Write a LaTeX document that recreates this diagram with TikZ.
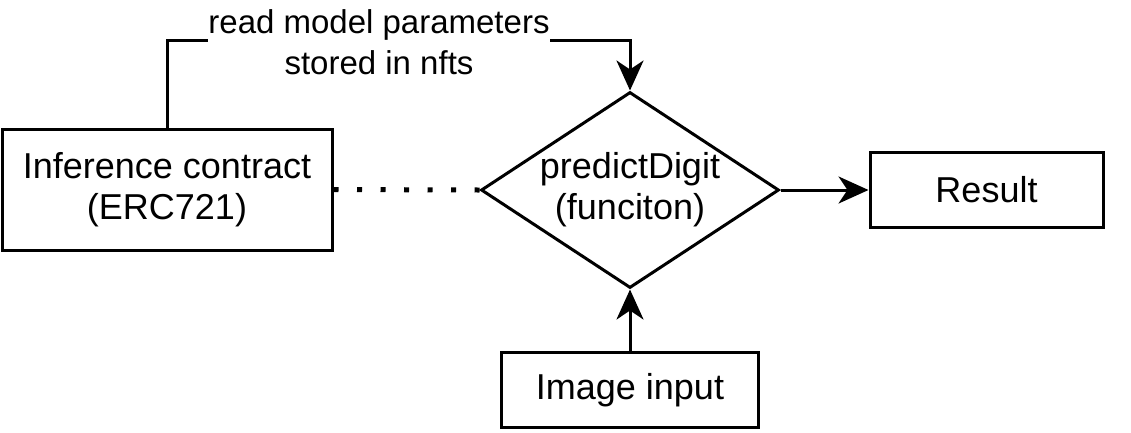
\documentclass[tikz,border=0pt]{standalone}
\usepackage{fontspec}
\setmainfont{Liberation Sans}
\usetikzlibrary{arrows.meta, shapes.geometric}

\begin{document}
\begin{tikzpicture}[x=1pt, y=-1pt, >={Stealth[length=30pt, width=27pt, inset=9pt]},
    box/.style={draw, line width=3pt, inner sep=0pt, align=center,
        font=\fontsize{36}{41}\selectfont},
    flow/.style={->, line width=3pt},
    dotline/.style={line width=5pt, dash pattern=on 5pt off 18.5pt},
    edgelabel/.style={fill=white, inner xsep=0pt, inner ysep=1pt, align=center,
        font=\fontsize{33}{41}\selectfont}]

    % ==========================================
    % Canvas
    % ==========================================
    \useasboundingbox (0,0) rectangle (1131,432);

    % ==========================================
    % Boxes
    % ==========================================
    \node[box, minimum width=330, minimum height=121] (contract) at (167,189.5)
        {Inference contract\\(ERC721)};

    \node[draw, line width=3pt, shape=diamond, inner sep=0pt,
        minimum width=298, minimum height=196] (func) at (630,190) {};
    \node[align=center, font=\fontsize{36}{41}\selectfont] (functext) at (func.center)
        {predictDigit\\(funciton)};

    \node[box, minimum width=233, minimum height=75] (result) at (986.5,190) {Result};
    \node[box, minimum width=257, minimum height=75] (input) at (630,390) {Image input};

    % ==========================================
    % Connectors
    % ==========================================
    \coordinate (corner) at (630,40);
    \draw[flow] (contract.north) |- (corner) -- (func.north);
    \node[edgelabel] (params) at (379,42) {read model parameters\\stored in nfts};

    \draw[dotline] (contract.east) -- (func.west);
    \draw[flow] (func.east) -- (result.west);
    \draw[flow] (input.north) -- (func.south);

\end{tikzpicture}
\end{document}
